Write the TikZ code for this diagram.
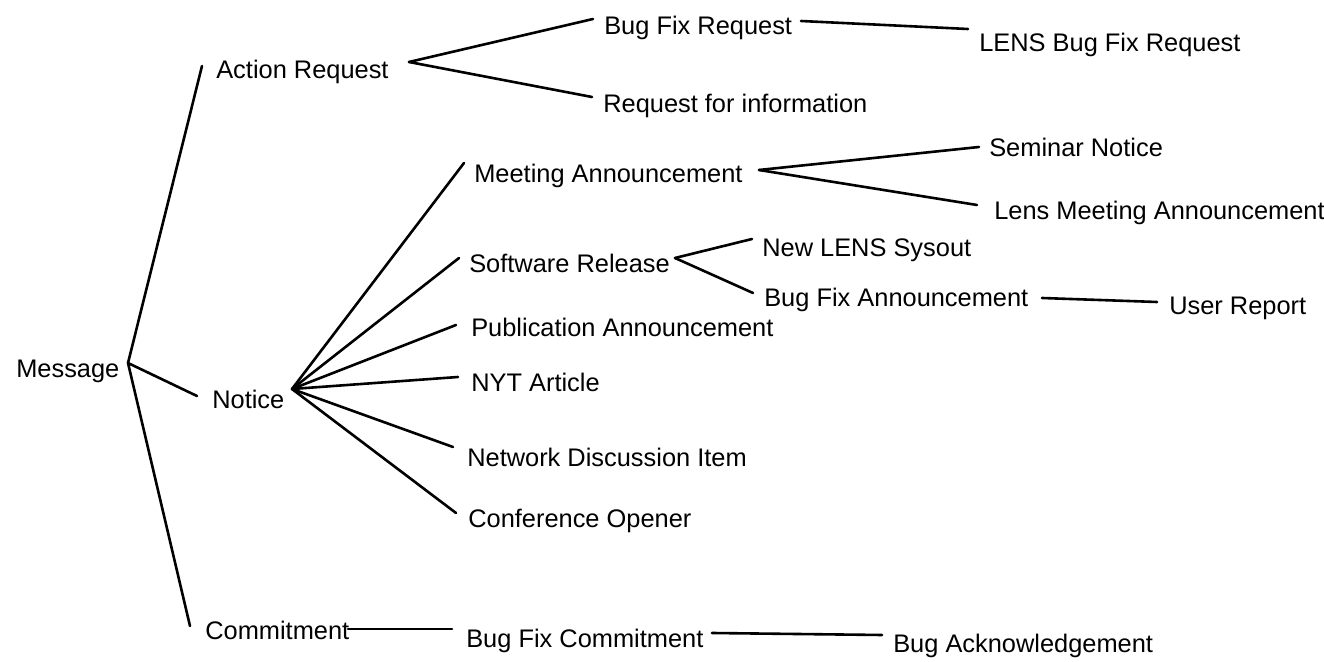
\documentclass[tikz,border=0pt]{standalone}
\usepackage{fontspec}
\setmainfont{Liberation Sans}
\usepackage{tikz}

\begin{document}
\begin{tikzpicture}[x=0.5pt,y=-0.5pt,line width=1.3pt,line cap=round,cat/.style={anchor=base west,inner sep=0pt,font=\fontsize{12.7}{15}\selectfont}]
\useasboundingbox (0,0) rectangle (1324,662);

% level 0 and 1
\node[cat] (Msg) at (15,378) {Message};
\node[cat] (AR) at (215,79) {Action Request};
\node[cat] (Not) at (211,409) {Notice};
\node[cat] (Com) at (204,640) {Commitment};

% level 2
\node[cat] (BFR) at (603,35) {Bug Fix Request};
\node[cat] (RFI) at (602,113) {Request for information};
\node[cat] (MA) at (473,183) {Meeting Announcement};
\node[cat] (SR) at (468,273) {Software Release};
\node[cat] (PA) at (470,337) {Publication Announcement};
\node[cat] (NYT) at (470,392) {NYT Article};
\node[cat] (NDI) at (466,467) {Network Discussion Item};
\node[cat] (CO) at (467,528) {Conference Opener};
\node[cat] (BFC) at (465,647) {Bug Fix Commitment};

% level 3 and 4
\node[cat] (LBFR) at (978,52) {LENS Bug Fix Request};
\node[cat] (SN) at (988,157) {Seminar Notice};
\node[cat] (LMA) at (993,220) {Lens Meeting Announcement};
\node[cat] (NLS) at (761,257) {New LENS Sysout};
\node[cat] (BFA) at (763,307) {Bug Fix Announcement};
\node[cat] (UR) at (1168,315) {User Report};
\node[cat] (BA) at (892,653) {Bug Acknowledgement};

% line ends
\coordinate (Msg-o) at (128,363);
\coordinate (AR-i) at (202,66);
\coordinate (AR-o) at (409,62);
\coordinate (Not-i) at (197,396);
\coordinate (Not-o) at (292,389);
\coordinate (Com-i) at (190,626);
\coordinate (Com-o) at (348,629);
\coordinate (BFR-i) at (593,19);
\coordinate (BFR-o) at (801,21);
\coordinate (RFI-i) at (592,97);
\coordinate (MA-i) at (464,163);
\coordinate (MA-o) at (759,170);
\coordinate (SR-i) at (459,258);
\coordinate (SR-o) at (675,258);
\coordinate (PA-i) at (456,325);
\coordinate (NYT-i) at (458,377);
\coordinate (NDI-i) at (453,447);
\coordinate (CO-i) at (456,513);
\coordinate (BFC-i) at (452,629);
\coordinate (BFC-o) at (712,633);
\coordinate (LBFR-i) at (968,29);
\coordinate (SN-i) at (979,147);
\coordinate (LMA-i) at (977,205);
\coordinate (NLS-i) at (752,239);
\coordinate (BFA-i) at (753,293);
\coordinate (BFA-o) at (1042,298);
\coordinate (UR-i) at (1157,302);
\coordinate (BA-i) at (882,635);

\draw (Msg-o) -- (AR-i);
\draw (Msg-o) -- (Not-i);
\draw (Msg-o) -- (Com-i);

\draw (AR-o) -- (BFR-i);
\draw (AR-o) -- (RFI-i);
\draw (BFR-o) -- (LBFR-i);

\foreach \c in {MA,SR,PA,NYT,NDI,CO}
  \draw (Not-o) -- (\c-i);
\draw (MA-o) -- (SN-i);
\draw (MA-o) -- (LMA-i);
\draw (SR-o) -- (NLS-i);
\draw (SR-o) -- (BFA-i);
\draw (BFA-o) -- (UR-i);

\draw (Com-o) -- (BFC-i);
\draw (BFC-o) -- (BA-i);
\end{tikzpicture}
\end{document}
